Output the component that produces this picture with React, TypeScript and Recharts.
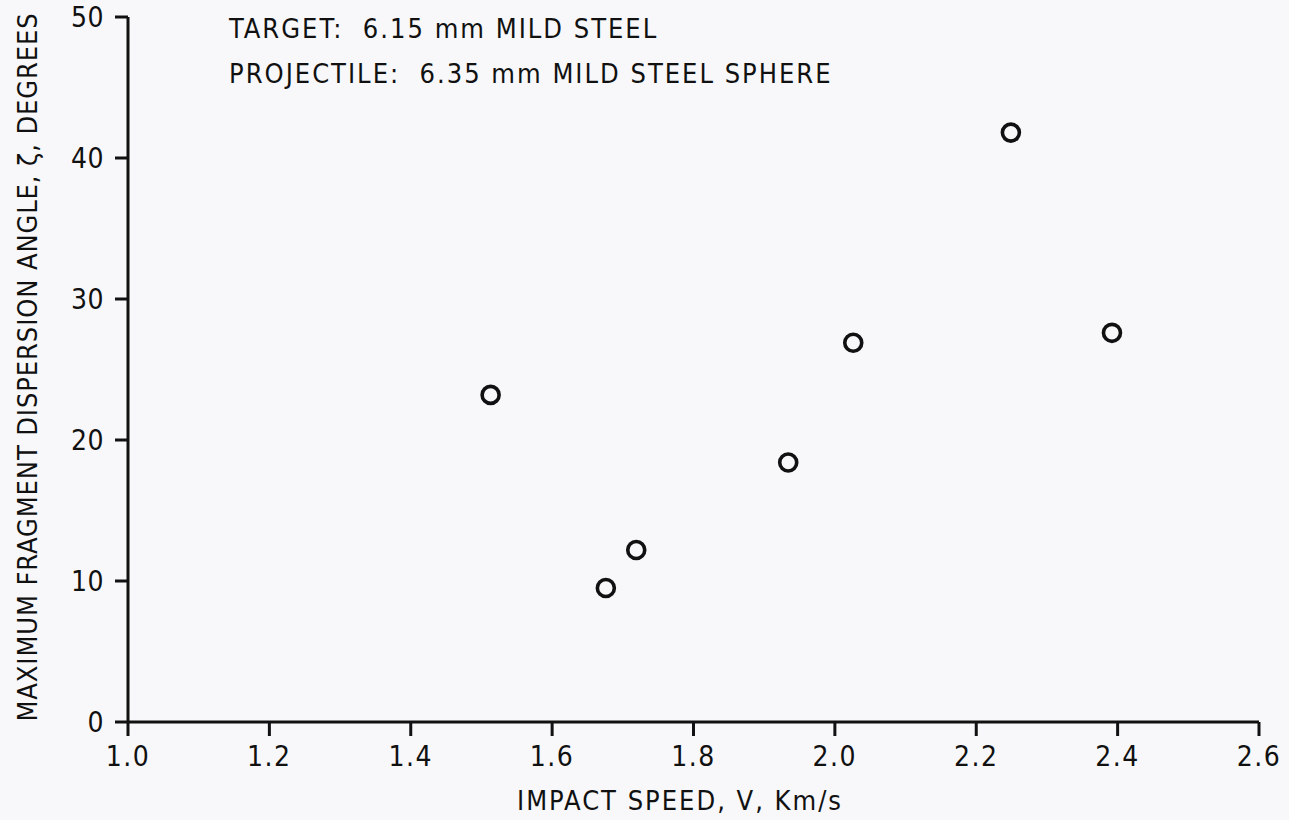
import React from 'react';
import { ScatterChart, Scatter, XAxis, YAxis, Customized } from 'recharts';

const speeds = [1.513, 1.676, 1.719, 1.934, 2.026, 2.249, 2.392];
const angles = [23.2, 9.5, 12.2, 18.4, 26.9, 41.8, 27.6];
const xTicks = [1.0, 1.2, 1.4, 1.6, 1.8, 2.0, 2.2, 2.4, 2.6];
const yTicks = [0, 10, 20, 30, 40, 50];
const titleLines = ['TARGET:  6.15 mm MILD STEEL', 'PROJECTILE:  6.35 mm MILD STEEL SPHERE'];
const xLabel = 'IMPACT SPEED, V, Km/s';
const yLabel = 'MAXIMUM FRAGMENT DISPERSION ANGLE, \u03B6, DEGREES';

const data = speeds.map((v, i) => ({ v, a: angles[i] }));

const FONT = "'DejaVu Sans Condensed', 'Liberation Sans Narrow', sans-serif";
const INK = '#111111';

const Ring = (props: any) => {
  const { cx, cy } = props;
  return <circle cx={cx} cy={cy} r={8.5} fill="none" stroke={INK} strokeWidth={3.6} />;
};

const Annotations = () => (
  <g fontFamily={FONT} fontSize={27} fill={INK}>
    <text x={229} y={38} letterSpacing={2} style={{ whiteSpace: 'pre' }}>{titleLines[0]}</text>
    <text x={229} y={83} letterSpacing={2} style={{ whiteSpace: 'pre' }}>{titleLines[1]}</text>
    <text x={680} y={810} textAnchor="middle" letterSpacing={2}>{xLabel}</text>
    <text x={37} y={367} textAnchor="middle" letterSpacing={0.9} transform="rotate(-90 37 367)">{yLabel}</text>
  </g>
);

export default function App() {
  return (
    <div style={{ position: 'absolute', left: 0, top: 0, width: 1289, height: 820, background: '#f8f8fa' }}>
      <ScatterChart width={1289} height={820} margin={{ top: 17, right: 30, left: 0, bottom: 0 }}>
        <XAxis
          type="number"
          dataKey="v"
          domain={[1.0, 2.6]}
          ticks={xTicks}
          interval={0}
          height={98}
          tickSize={14}
          tickMargin={10}
          tickFormatter={(t: number) => t.toFixed(1)}
          axisLine={{ stroke: INK, strokeWidth: 3 }}
          tickLine={{ stroke: INK, strokeWidth: 3 }}
          tick={{ fill: INK, fontSize: 28, fontFamily: FONT, letterSpacing: 1.5 }}
        />
        <YAxis
          type="number"
          dataKey="a"
          domain={[0, 50]}
          ticks={yTicks}
          interval={0}
          width={128}
          tickSize={13}
          tickMargin={11}
          axisLine={{ stroke: INK, strokeWidth: 3 }}
          tickLine={{ stroke: INK, strokeWidth: 3 }}
          tick={{ fill: INK, fontSize: 28, fontFamily: FONT, letterSpacing: 0.5 }}
        />
        <Scatter data={data} shape={Ring} isAnimationActive={false} />
        <Customized component={Annotations} />
      </ScatterChart>
    </div>
  );
}
